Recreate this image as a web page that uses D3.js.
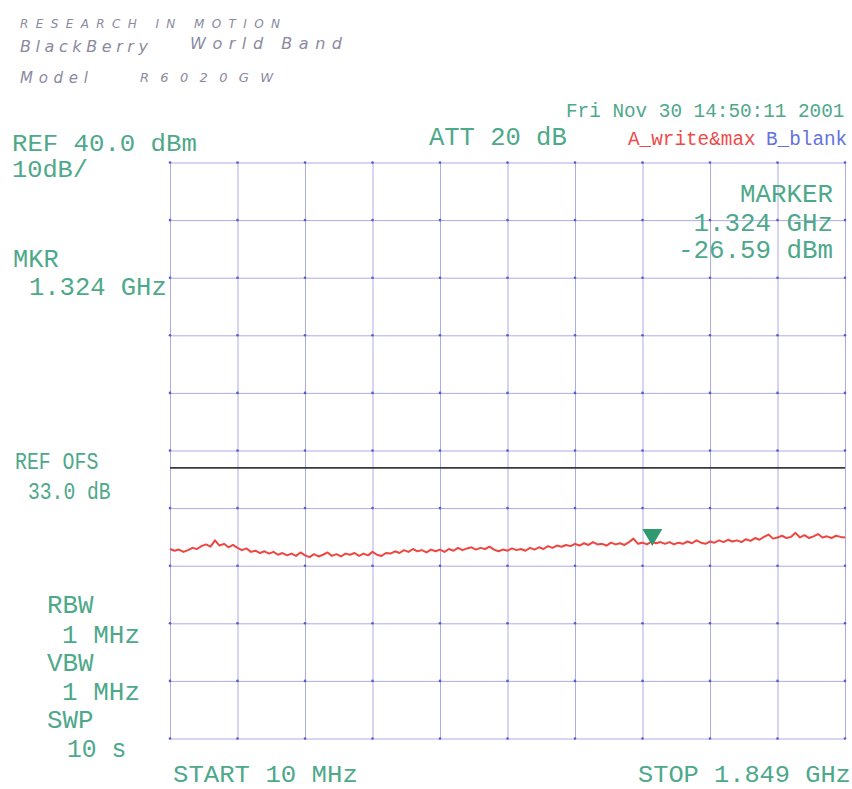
<!DOCTYPE html>
<html>
<head>
<meta charset="utf-8">
<script src="https://cdn.jsdelivr.net/npm/d3@7"></script>
<style>
  body { margin: 0; background: #fff; }
  svg { display: block; }
  .lbl { font-family: "Liberation Mono", "DejaVu Sans Mono", monospace; fill: #4ea88a; }
  .hand { font-family: "DejaVu Sans", sans-serif; font-style: italic; fill: #8a8aa0; }
</style>
</head>
<body>
<div id="chart"></div>
<script>
// sweep settings (MHz) and level scale (dBm)
const startFreq = 10;
const stopFreq = 1849;
const refLevel = 40;
const bottomLevel = -60;
const divisions = 10;

// trace A (write & max), dBm, one value per sweep point from start to stop
const traceA = [
  -27.1, -27.4, -27.2, -27.6, -27.3, -26.9, -27.1, -26.6, -26.3, -26.7,
  -25.6, -26.5, -26.2, -26.8, -26.4, -26.9, -27.3, -27.0, -27.6, -27.4,
  -27.8, -27.5, -27.9, -27.6, -28.1, -27.8, -28.2, -27.9, -28.3, -27.7,
  -28.2, -28.5, -28.0, -28.4, -28.1, -27.7, -28.3, -28.0, -28.4, -27.9,
  -28.1, -27.8, -28.3, -27.9, -28.2, -27.6, -28.1, -28.3, -27.8, -27.9,
  -27.5, -27.8, -27.3, -27.6, -27.1, -27.5, -27.3, -27.7, -27.2, -27.5,
  -27.2, -27.6, -27.1, -27.4, -26.9, -27.3, -27.0, -26.8, -27.2, -26.9,
  -27.1, -26.7, -27.2, -27.5, -27.2, -27.4, -27.0, -27.3, -27.1, -27.4,
  -26.9, -27.2, -26.8, -27.1, -26.6, -26.9, -26.5, -26.7, -26.4, -26.6,
  -26.2, -26.5, -26.1, -26.4, -25.9, -26.3, -26.2, -26.5, -26.0, -26.3,
  -26.1, -26.4, -25.9, -25.3, -26.2, -26.0, -26.3, -25.8, -26.1, -25.9,
  -26.2, -25.9, -26.3, -26.0, -26.2, -25.8, -26.1, -25.6, -26.0, -26.2,
  -25.8, -26.0, -25.6, -25.9, -25.5, -25.8, -25.6, -25.9, -25.4, -25.7,
  -25.2, -25.5, -25.0, -24.6, -25.3, -25.1, -24.8, -25.2, -25.0, -24.3,
  -25.1, -24.7, -25.2, -24.9, -24.5, -25.1, -24.9, -25.2, -24.8, -25.0, -25.1
];

// marker and display line
const markerFreq = 1324;
const markerLevel = -26.59;
const displayLine = -13;

// screen annotations
const leftLabels = [
  { t: "REF 40.0 dBm", x: 12, y: 151, n: 15.4, s: 24 },
  { t: "10dB/", x: 12, y: 177, n: 15.2, s: 24 },
  { t: "MKR", x: 13, y: 267, n: 15.2, s: 25 },
  { t: "1.324 GHz", x: 29, y: 295, n: 15.3, s: 25 },
  { t: "REF OFS", x: 15, y: 469, n: 11.9, s: 24 },
  { t: "33.0 dB", x: 28, y: 499, n: 11.8, s: 24 },
  { t: "RBW", x: 47, y: 613, n: 15.5, s: 25 },
  { t: "1 MHz", x: 62, y: 643, n: 15.6, s: 25 },
  { t: "VBW", x: 47, y: 671, n: 15.5, s: 25 },
  { t: "1 MHz", x: 62, y: 700, n: 15.6, s: 25 },
  { t: "SWP", x: 47, y: 728, n: 15.5, s: 25 },
  { t: "10 s", x: 67, y: 757, n: 14.8, s: 25 },
  { t: "START 10 MHz", x: 173, y: 782, n: 15.4, s: 24 },
  { t: "STOP 1.849 GHz", x: 638, y: 782, n: 15.2, s: 24 },
  { t: "ATT 20 dB", x: 429, y: 145, n: 15.3, s: 25 }
];
const markerLabels = ["MARKER", "1.324 GHz", "-26.59 dBm"];
const dateLabel = "Fri Nov 30 14:50:11 2001";

const width = 852, height = 789;
const margin = { top: 162.5, right: 7, bottom: 50.5, left: 170 };

const svg = d3.select("#chart").append("svg")
  .attr("width", width)
  .attr("height", height);

const x = d3.scaleLinear().domain([startFreq, stopFreq]).range([margin.left, width - margin.right]);
const y = d3.scaleLinear().domain([bottomLevel, refLevel]).range([height - margin.bottom, margin.top]);

const xDivs = d3.range(divisions + 1).map(i => startFreq + i * (stopFreq - startFreq) / divisions);
const yDivs = d3.range(divisions + 1).map(i => bottomLevel + i * (refLevel - bottomLevel) / divisions);

// graticule
const grid = svg.append("g").attr("class", "grid");
grid.append("g")
  .attr("transform", "translate(0," + y(bottomLevel) + ")")
  .call(d3.axisBottom(x).tickValues(xDivs).tickSize(-(y(bottomLevel) - y(refLevel))).tickFormat(""))
  .call(g => g.select(".domain").remove());
grid.append("g")
  .attr("transform", "translate(" + x(startFreq) + ",0)")
  .call(d3.axisLeft(y).tickValues(yDivs).tickSize(-(x(stopFreq) - x(startFreq))).tickFormat(""))
  .call(g => g.select(".domain").remove());
grid.selectAll(".tick line")
  .attr("stroke", "#7474d4")
  .attr("stroke-opacity", 0.6)
  .attr("stroke-width", 1);
grid.selectAll(".tick text").remove();

// little dots where the grid lines cross
const crossings = [];
xDivs.forEach(f => yDivs.forEach(l => crossings.push([f, l])));
grid.selectAll("circle.cross")
  .data(crossings)
  .join("circle")
  .attr("class", "cross")
  .attr("cx", d => x(d[0]))
  .attr("cy", d => y(d[1]))
  .attr("r", 1.3)
  .attr("fill", "#5a5acc");

// display line
svg.append("line")
  .attr("x1", x(startFreq)).attr("x2", x(stopFreq))
  .attr("y1", y(displayLine)).attr("y2", y(displayLine))
  .attr("stroke", "#3a3a3a")
  .attr("stroke-width", 1.8);

// trace
const step = (stopFreq - startFreq) / (traceA.length - 1);
const traceLine = d3.line()
  .x((d, i) => x(startFreq + i * step))
  .y(d => y(d));
svg.append("path")
  .datum(traceA)
  .attr("d", traceLine)
  .attr("fill", "none")
  .attr("stroke", "#ee4640")
  .attr("stroke-width", 2)
  .attr("stroke-linejoin", "round");

// marker triangle, tip on the marker level
const mx = x(markerFreq), my = y(markerLevel);
svg.append("path")
  .attr("d", "M" + (mx - 10) + "," + (my - 17) + "L" + (mx + 10) + "," + (my - 17) + "L" + mx + "," + my + "Z")
  .attr("fill", "#2f9a72");

// text
svg.selectAll("text.lbl")
  .data(leftLabels)
  .join("text")
  .attr("class", "lbl")
  .attr("x", d => d.x)
  .attr("y", d => d.y)
  .attr("font-size", d => d.s)
  .attr("textLength", d => d.t.length * d.n)
  .attr("lengthAdjust", "spacingAndGlyphs")
  .text(d => d.t);

svg.append("g").selectAll("text")
  .data(markerLabels)
  .join("text")
  .attr("class", "lbl")
  .attr("x", 833)
  .attr("y", (d, i) => [202, 231, 258][i])
  .attr("text-anchor", "end")
  .attr("font-size", 25)
  .attr("textLength", d => d.length * 15.5)
  .attr("lengthAdjust", "spacingAndGlyphs")
  .text(d => d);

svg.append("text")
  .attr("class", "lbl")
  .attr("x", 566).attr("y", 117)
  .attr("font-size", 19.3)
  .attr("textLength", dateLabel.length * 11.6)
  .attr("lengthAdjust", "spacingAndGlyphs")
  .text(dateLabel);

svg.append("text")
  .attr("class", "lbl")
  .attr("x", 628).attr("y", 145)
  .attr("font-size", 19.3)
  .attr("textLength", 11 * 11.6)
  .attr("lengthAdjust", "spacingAndGlyphs")
  .style("fill", "#ee4a4a")
  .text("A_write&max");

svg.append("text")
  .attr("class", "lbl")
  .attr("x", 766).attr("y", 145)
  .attr("font-size", 19.3)
  .attr("textLength", 7 * 11.6)
  .attr("lengthAdjust", "spacingAndGlyphs")
  .style("fill", "#6672dc")
  .text("B_blank");

// handwritten note at the top
const notes = [
  { t: "RESEARCH IN MOTION", x: 20, y: 28, w: 260, s: 12 },
  { t: "BlackBerry", x: 20, y: 52, w: 128, s: 16 },
  { t: "World Band", x: 190, y: 49, w: 152, s: 16 },
  { t: "Model", x: 20, y: 83, w: 68, s: 15 },
  { t: "R6020GW", x: 140, y: 82, w: 133, s: 13 }
];
svg.selectAll("text.hand")
  .data(notes)
  .join("text")
  .attr("class", "hand")
  .attr("x", d => d.x)
  .attr("y", d => d.y)
  .attr("font-size", d => d.s)
  .attr("textLength", d => d.w)
  .attr("lengthAdjust", "spacing")
  .text(d => d.t);
</script>
</body>
</html>
